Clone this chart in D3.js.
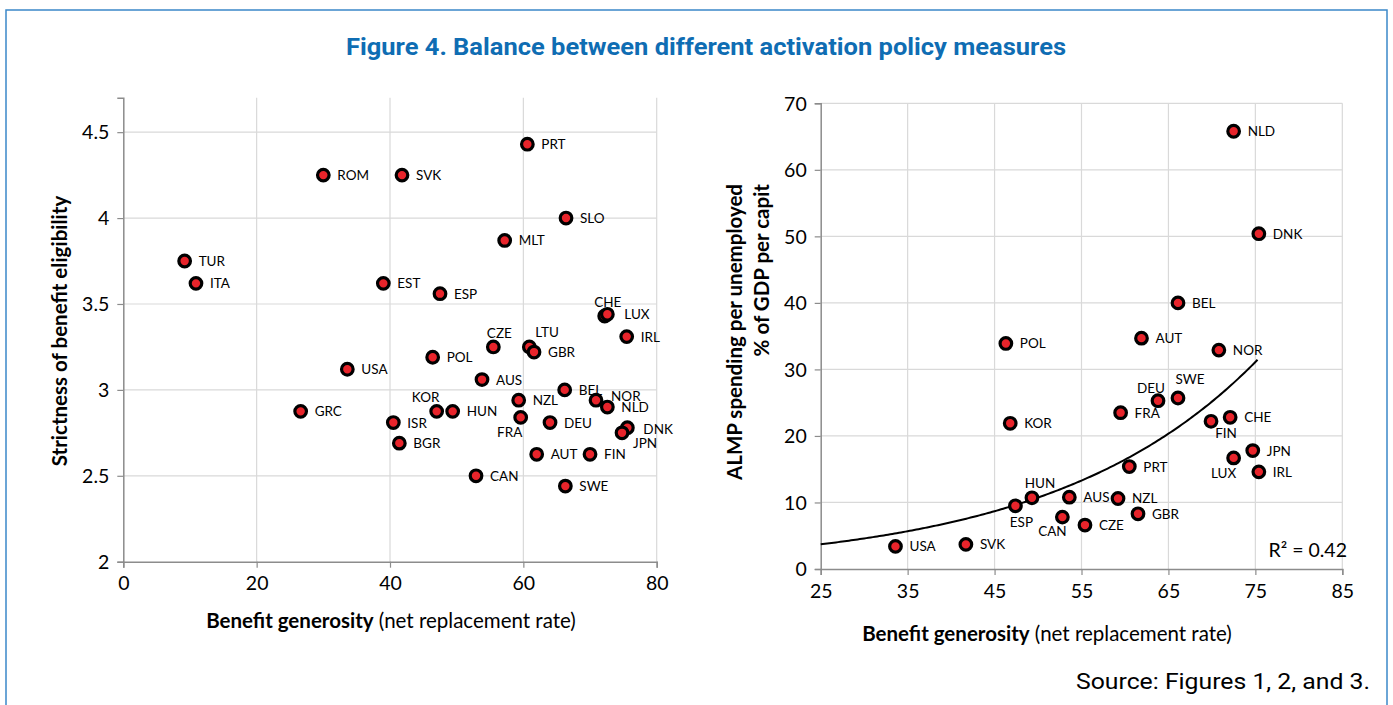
<!DOCTYPE html>
<html>
<head>
<meta charset="utf-8">
<script src="https://cdn.jsdelivr.net/npm/d3@7"></script>
<style>
  html, body { margin: 0; padding: 0; background: #fff; }
  svg { display: block; }
  text { font-family: Lato, "Open Sans", sans-serif; fill: #000; }
</style>
</head>
<body>
<svg id="chart" width="1393" height="705"></svg>
<script>
// ---------------- DATA ----------------
const titleText = "Figure 4. Balance between different activation policy measures";
const sourceText = "Source: Figures 1, 2, and 3.";

// Left panel: benefit generosity vs strictness of benefit eligibility
const leftCountries = ["TUR","ITA","ROM","SVK","PRT","SLO","MLT","EST","ESP","CHE","LUX","IRL","CZE","LTU","GBR","POL","USA","AUS","BEL","NZL","NOR","NLD","KOR","HUN","GRC","FRA","ISR","DEU","DNK","JPN","BGR","AUT","FIN","CAN","SWE"];
const leftGenerosity = [9.2,10.9,30.0,41.8,60.6,66.4,57.2,39.0,47.5,72.2,72.6,75.5,55.5,60.9,61.6,46.4,33.6,53.8,66.2,59.3,70.9,72.6,47.0,49.4,26.6,59.6,40.5,64.0,75.6,74.8,41.4,62.0,70.0,52.9,66.3];
const leftStrictness = [3.75,3.62,4.25,4.25,4.43,4.00,3.87,3.62,3.56,3.43,3.44,3.31,3.25,3.25,3.22,3.19,3.12,3.06,3.00,2.94,2.94,2.90,2.875,2.875,2.875,2.84,2.81,2.81,2.78,2.75,2.69,2.625,2.625,2.50,2.44];
const leftXTicks = [0, 20, 40, 60, 80];
const leftYTicks = [2, 2.5, 3, 3.5, 4, 4.5];
const leftYTickLabels = ["2", "2.5", "3", "3.5", "4", "4.5"];

// Right panel: benefit generosity vs ALMP spending per unemployed (% of GDP per capita)
const rightCountries = ["NLD","DNK","BEL","AUT","NOR","POL","KOR","HUN","ESP","USA","SVK","SWE","DEU","FRA","CHE","FIN","JPN","LUX","IRL","PRT","AUS","NZL","GBR","CAN","CZE"];
const rightGenerosity = [72.5,75.4,66.1,61.9,70.8,46.3,46.8,49.3,47.4,33.6,41.7,66.1,63.8,59.5,72.1,69.9,74.7,72.5,75.4,60.5,53.6,59.2,61.5,52.8,55.4];
const rightSpending = [65.8,50.4,40.0,34.7,32.9,33.9,21.9,10.7,9.5,3.4,3.7,25.7,25.3,23.5,22.8,22.2,17.8,16.7,14.6,15.4,10.8,10.6,8.3,7.8,6.6];
const rightXTicks = [25, 35, 45, 55, 65, 75, 85];
const rightYTicks = [0, 10, 20, 30, 40, 50, 60, 70];
const rSquaredText = "R² = 0.42";

// ---------------- LAYOUT / STYLE ----------------
const svg = d3.select("#chart");
const gridColor = "#d9d9d9";
const axisColor = "#8c8c8c";
const red = "#e8242b";
const blue = "#0f6db3";

// frame
svg.append("rect").attr("x", 6).attr("y", 10).attr("width", 1381).attr("height", 710)
  .attr("fill", "none").attr("stroke", "#3b88c9").attr("stroke-width", 1.5);

// title
svg.append("text").attr("x", 706).attr("y", 55).attr("text-anchor", "middle")
  .style("font-family", "Roboto, sans-serif")
  .attr("font-size", 24.5).attr("font-weight", 700).style("fill", blue)
  .attr("textLength", 720).attr("lengthAdjust", "spacingAndGlyphs")
  .text(titleText);

// source
svg.append("text").attr("x", 1370).attr("y", 689).attr("text-anchor", "end")
  .style("font-family", "Roboto, sans-serif")
  .attr("font-size", 22).attr("textLength", 294).attr("lengthAdjust", "spacingAndGlyphs")
  .text(sourceText);

// label placement (layout, not data): [dx, dy, anchor]
const leftLabelPos = {
  CHE: [3, -9, "middle"], LUX: [17, 5, "start"], CZE: [6, -9, "middle"], LTU: [6, -10, "start"],
  KOR: [-11, -9, "middle"], FRA: [-11, 20, "middle"], NOR: [15, 1, "start"], DNK: [16, 6, "start"],
  JPN: [11, 15, "start"]
};
const rightLabelPos = {
  HUN: [8, -10, "middle"], ESP: [6, 21, "middle"], CAN: [-10, 19, "middle"], DEU: [-7, -8, "middle"],
  SWE: [12, -14, "middle"], FIN: [15, 17, "middle"], LUX: [-10, 20, "middle"]
};

function drawPanel(opts) {
  const g = svg.append("g");
  const x = d3.scaleLinear().domain(opts.xDomain).range(opts.xRange);
  const y = d3.scaleLinear().domain(opts.yDomain).range(opts.yRange);
  const [x0, x1] = opts.xRange;
  const [yb, yt] = opts.yRange;

  // vertical gridlines
  g.append("g").selectAll("line").data(opts.xTicks.filter(t => t !== opts.xDomain[0])).join("line")
    .attr("x1", d => x(d)).attr("x2", d => x(d)).attr("y1", yb).attr("y2", yt)
    .attr("stroke", gridColor).attr("stroke-width", 1.2);
  // horizontal gridlines
  g.append("g").selectAll("line").data(opts.yTicks.filter(t => t !== opts.yDomain[0])).join("line")
    .attr("x1", x0).attr("x2", x1).attr("y1", d => y(d)).attr("y2", d => y(d))
    .attr("stroke", gridColor).attr("stroke-width", 1.2);

  // axes
  const xAxis = d3.axisBottom(x).tickValues(opts.xTicks).tickSize(6).tickPadding(6).tickFormat(d3.format("d"));
  const yAxis = d3.axisLeft(y).tickValues(opts.yTicks).tickSize(6).tickPadding(8)
    .tickFormat((d, i) => opts.yTickLabels ? opts.yTickLabels[i] : d3.format("d")(d));
  const gx = g.append("g").attr("transform", `translate(0,${yb})`).call(xAxis);
  const gy = g.append("g").attr("transform", `translate(${x0},0)`).call(yAxis);
  [gx, gy].forEach(a => {
    a.select(".domain").attr("stroke", axisColor).attr("stroke-width", 1.5);
    a.selectAll(".tick line").attr("stroke", axisColor).attr("stroke-width", 1.2);
    a.selectAll(".tick text").attr("font-family", "Lato, sans-serif").attr("font-size", 19.5).style("fill", "#000");
  });
  gx.selectAll(".tick text").attr("dy", "0.85em");
  gy.selectAll(".tick text").attr("dy", "0.35em");

  if (opts.extra) opts.extra(g, x, y);

  // points
  const data = opts.countries.map((c, i) => ({ c, xv: opts.xs[i], yv: opts.ys[i] }));
  g.append("g").selectAll("circle").data(data).join("circle")
    .attr("cx", d => x(d.xv)).attr("cy", d => y(d.yv)).attr("r", 5.8)
    .attr("fill", red).attr("stroke", "#000").attr("stroke-width", 3.2);

  g.append("g").selectAll("text").data(data).join("text")
    .attr("x", d => x(d.xv) + (opts.labelPos[d.c] ? opts.labelPos[d.c][0] : 14))
    .attr("y", d => y(d.yv) + (opts.labelPos[d.c] ? opts.labelPos[d.c][1] : 5))
    .attr("text-anchor", d => opts.labelPos[d.c] ? opts.labelPos[d.c][2] : "start")
    .attr("font-size", 13.5)
    .text(d => d.c);

  // x title
  const xt = g.append("text").attr("x", opts.xTitlePos[0]).attr("y", opts.xTitlePos[1])
    .attr("text-anchor", "middle").attr("font-size", 20.5);
  xt.append("tspan").attr("font-weight", 700).text("Benefit generosity");
  xt.append("tspan").text(" (net replacement rate)");

  return { x, y, g };
}

// Left panel
drawPanel({
  countries: leftCountries, xs: leftGenerosity, ys: leftStrictness,
  xDomain: [0, 80], yDomain: [2, 4.7],
  xRange: [123.3, 656.7], yRange: [561.7, 97.8],
  xTicks: leftXTicks, yTicks: leftYTicks, yTickLabels: leftYTickLabels,
  labelPos: leftLabelPos,
  xTitlePos: [391, 628]
});
svg.append("text").attr("transform", "translate(67,331) rotate(-90)")
  .attr("text-anchor", "middle").attr("font-size", 20.5).attr("font-weight", 700)
  .text("Strictness of benefit eligibility");

// Right panel
drawPanel({
  countries: rightCountries, xs: rightGenerosity, ys: rightSpending,
  xDomain: [25, 85], yDomain: [0, 70],
  xRange: [820.7, 1342.3], yRange: [569, 103.3],
  xTicks: rightXTicks, yTicks: rightYTicks,
  labelPos: rightLabelPos,
  xTitlePos: [1047, 641],
  extra: (g, x, y) => {
    // exponential trend line fitted on ln(y)
    const n = rightGenerosity.length;
    const lx = rightGenerosity, ly = rightSpending.map(Math.log);
    const mx = d3.mean(lx), my = d3.mean(ly);
    let sxy = 0, sxx = 0;
    for (let i = 0; i < n; i++) { sxy += (lx[i] - mx) * (ly[i] - my); sxx += (lx[i] - mx) ** 2; }
    const b = sxy / sxx, a = Math.exp(my - b * mx);
    const xmax = d3.max(rightGenerosity);
    const pts = d3.range(25, xmax + 0.01, 0.25).map(v => [v, a * Math.exp(b * v)]);
    g.append("path").attr("d", d3.line().x(d => x(d[0])).y(d => y(d[1]))(pts))
      .attr("fill", "none").attr("stroke", "#000").attr("stroke-width", 2);
    g.append("text").attr("x", 1347).attr("y", 557).attr("text-anchor", "end")
      .attr("font-size", 19.5).text(rSquaredText);
  }
});
// right y title (two lines)
svg.append("text").attr("transform", "translate(742,184) rotate(-90)")
  .attr("text-anchor", "end").attr("font-size", 20.5).attr("font-weight", 700)
  .text("ALMP spending per unemployed");
svg.append("text").attr("transform", "translate(769,184) rotate(-90)")
  .attr("text-anchor", "end").attr("font-size", 20.5).attr("font-weight", 700)
  .text("% of GDP per capit");
</script>
</body>
</html>
